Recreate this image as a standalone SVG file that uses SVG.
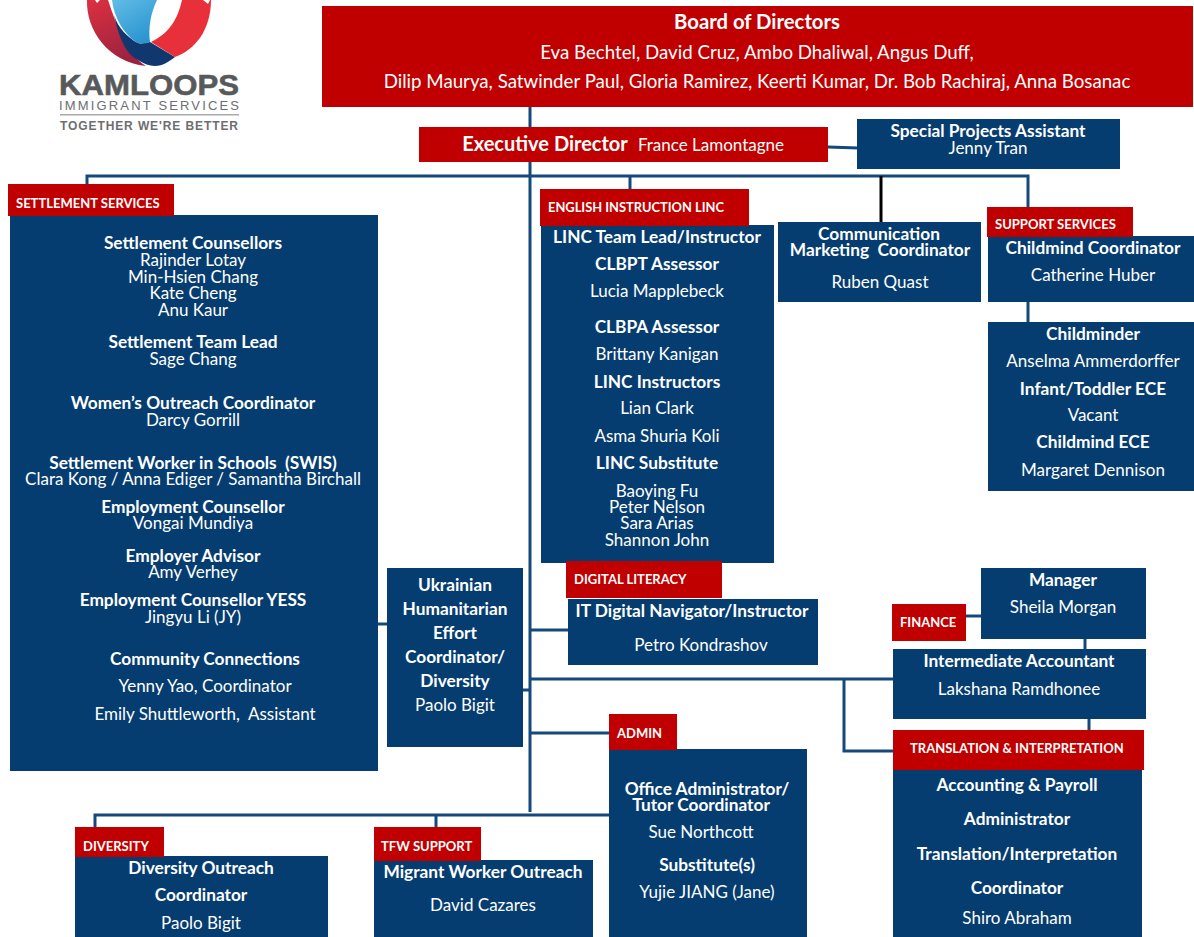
<svg xmlns="http://www.w3.org/2000/svg" width="1194" height="937" viewBox="0 0 1194 937">
<style>
text{font-family:Lato,"Liberation Sans",sans-serif;fill:#fff;text-anchor:middle;font-size:17px}
.b{font-weight:700;font-size:17.3px}
.t{font-weight:700;font-size:13px;text-anchor:start}
.red{fill:#c00000}
.blue{fill:#063d70}
.c{fill:none;stroke:#14497c;stroke-width:3}
.logo{font-family:"Liberation Sans",sans-serif}
</style>
<defs>
<linearGradient id="lr" x1="0" y1="0" x2="0.4" y2="1"><stop offset="0" stop-color="#dc3040"/><stop offset="1" stop-color="#9e2240"/></linearGradient>
<linearGradient id="lb" x1="0" y1="0" x2="0.6" y2="1"><stop offset="0" stop-color="#62bce6"/><stop offset="1" stop-color="#2a95d0"/></linearGradient>
</defs>
<rect width="1194" height="937" fill="#fff"/>
<g id="connectors">
<path class="c" d="M530 106V812"/>
<path class="c" d="M87 184V176H1028V208"/>
<path class="c" d="M630 176V190"/>
<path d="M881 176V222" fill="none" stroke="#000" stroke-width="3"/>
<path class="c" d="M828 147L858 148"/>
<path class="c" d="M378 624H388"/>
<path class="c" d="M523 690H530"/>
<path class="c" d="M530 630H568"/>
<path class="c" d="M530 679H893"/>
<path class="c" d="M844 679V751H893"/>
<path class="c" d="M530 733H609"/>
<path class="c" d="M95 828V815H609"/>
<path class="c" d="M436 815V828"/>
<path class="c" d="M965 616H981"/>
<path class="c" d="M1085 638V650"/>
<path class="c" d="M1089 718V730"/>
<path class="c" d="M1028 302V323"/>
</g>
<g id="logo">
<path d="M87 0C86 30 108 62 146 66C128 55 118 30 108 0Z" fill="url(#lr)"/>
<path d="M114 15C118 35 125 50 132 56C140 62 148 66 155 66C163 66 170 61 175 57L150 42C145 43 140 44 138 43C128 38 118 28 114 15Z" fill="#10386f"/>
<path d="M112 0H157C151 12 148 28 150 42C145 44 140 44 136 42C124 34 114 18 112 0Z" fill="url(#lb)"/>
<path d="M182 0H211C211 30 195 50 175 57L151 42C170 33 178 18 182 0Z" fill="#e8303a"/>
<path d="M95 0H100L97 3ZM203 0H210L208 4Z" fill="#fff"/>
<text class="logo" x="149" y="95" style="font-size:30px;fill:#58595b;font-weight:700;stroke:#58595b;stroke-width:.6" textLength="180" lengthAdjust="spacingAndGlyphs">KAMLOOPS</text>
<text class="logo" x="149" y="109.5" style="font-size:13px;fill:#6d6e71" textLength="180">IMMIGRANT SERVICES</text>
<rect x="60" y="114" width="179" height="1.5" fill="#aaa"/>
<text class="logo" x="149" y="130" style="font-size:12px;fill:#6d6e71;font-weight:700" textLength="178">TOGETHER WE'RE BETTER</text>
</g>
<g id="board">
<rect class="red" x="322" y="6" width="871" height="101"/>
<text class="b" x="757" y="29" style="font-size:20.3px">Board of Directors</text>
<text x="757" y="59" style="font-size:18.7px">Eva Bechtel, David Cruz, Ambo Dhaliwal, Angus Duff,</text>
<text x="757" y="88" style="font-size:18.7px">Dilip Maurya, Satwinder Paul, Gloria Ramirez, Keerti Kumar, Dr. Bob Rachiraj, Anna Bosanac</text>
</g>
<g id="executive-director">
<rect class="red" x="419" y="127" width="409" height="35"/>
<text class="b" x="545" y="151" style="font-size:20px">Executive Director</text>
<text x="711" y="151">France Lamontagne</text>
</g>
<g id="special-projects">
<rect class="blue" x="857" y="119" width="263" height="50"/>
<text class="b" x="988" y="137">Special Projects Assistant</text>
<text x="988" y="154">Jenny Tran</text>
</g>
<g id="settlement">
<rect class="blue" x="10" y="215" width="368" height="556"/>
<rect class="red" x="8" y="184" width="166" height="32"/>
<text class="t" x="16" y="208">SETTLEMENT SERVICES</text>
<text class="b" x="193" y="249">Settlement Counsellors</text>
<text x="193" y="266">Rajinder Lotay</text>
<text x="193" y="283">Min-Hsien Chang</text>
<text x="193" y="299">Kate Cheng</text>
<text x="193" y="316">Anu Kaur</text>
<text class="b" x="193" y="348">Settlement Team Lead</text>
<text x="193" y="365">Sage Chang</text>
<text class="b" x="193" y="409">Women’s Outreach Coordinator</text>
<text x="193" y="426">Darcy Gorrill</text>
<text class="b" x="193" y="469">Settlement Worker in Schools &#160;(SWIS)</text>
<text x="193" y="485">Clara Kong / Anna Ediger / Samantha Birchall</text>
<text class="b" x="193" y="513">Employment Counsellor</text>
<text x="193" y="529">Vongai Mundiya</text>
<text class="b" x="193" y="562">Employer Advisor</text>
<text x="193" y="578">Amy Verhey</text>
<text class="b" x="193" y="606">Employment Counsellor YESS</text>
<text x="193" y="623">Jingyu Li (JY)</text>
<text class="b" x="205" y="665">Community Connections</text>
<text x="205" y="692">Yenny Yao, Coordinator</text>
<text x="205" y="720">Emily Shuttleworth, &#160;Assistant</text>
</g>
<g id="english">
<rect class="blue" x="541" y="225" width="233" height="338"/>
<rect class="red" x="540" y="189" width="209" height="37"/>
<text class="t" x="548" y="212" textLength="176" lengthAdjust="spacingAndGlyphs">ENGLISH INSTRUCTION LINC</text>
<text class="b" x="657" y="243">LINC Team Lead/Instructor</text>
<text class="b" x="657" y="270">CLBPT Assessor</text>
<text x="657" y="297">Lucia Mapplebeck</text>
<text class="b" x="657" y="333">CLBPA Assessor</text>
<text x="657" y="360">Brittany Kanigan</text>
<text class="b" x="657" y="388">LINC Instructors</text>
<text x="657" y="414">Lian Clark</text>
<text x="657" y="442">Asma Shuria Koli</text>
<text class="b" x="657" y="469">LINC Substitute</text>
<text x="657" y="497">Baoying Fu</text>
<text x="657" y="513">Peter Nelson</text>
<text x="657" y="529">Sara Arias</text>
<text x="657" y="546">Shannon John</text>
</g>
<g id="communication">
<rect class="blue" x="778" y="222" width="203" height="80"/>
<text class="b" x="879" y="240">Communication</text>
<text class="b" x="880" y="256">Marketing &#160;Coordinator</text>
<text x="880" y="288">Ruben Quast</text>
</g>
<g id="support">
<rect class="blue" x="988" y="236" width="206" height="66"/>
<rect class="red" x="987" y="207" width="146" height="30"/>
<text class="t" x="995" y="229">SUPPORT SERVICES</text>
<text class="b" x="1093" y="254">Childmind Coordinator</text>
<text x="1093" y="281">Catherine Huber</text>
</g>
<g id="childminder">
<rect class="blue" x="988" y="322" width="206" height="169"/>
<text class="b" x="1093" y="340">Childminder</text>
<text x="1093" y="367">Anselma Ammerdorffer</text>
<text class="b" x="1093" y="395">Infant/Toddler ECE</text>
<text x="1093" y="421">Vacant</text>
<text class="b" x="1093" y="448">Childmind ECE</text>
<text x="1093" y="476">Margaret Dennison</text>
</g>
<g id="ukrainian">
<rect class="blue" x="387" y="568" width="136" height="179"/>
<text class="b" x="455" y="591">Ukrainian</text>
<text class="b" x="455" y="615">Humanitarian</text>
<text class="b" x="455" y="639">Effort</text>
<text class="b" x="455" y="663">Coordinator/</text>
<text class="b" x="455" y="687">Diversity</text>
<text x="455" y="711">Paolo Bigit</text>
</g>
<g id="digital">
<rect class="blue" x="568" y="599" width="250" height="66"/>
<rect class="red" x="566" y="561" width="156" height="37"/>
<text class="t" x="574" y="584">DIGITAL LITERACY</text>
<text class="b" x="692" y="617">IT Digital Navigator/Instructor</text>
<text x="701" y="651">Petro Kondrashov</text>
</g>
<g id="finance-label">
<rect class="red" x="892" y="604" width="74" height="37"/>
<text class="t" x="900" y="627">FINANCE</text>
</g>
<g id="manager">
<rect class="blue" x="981" y="568" width="165" height="71"/>
<text class="b" x="1063" y="586">Manager</text>
<text x="1063" y="613">Sheila Morgan</text>
</g>
<g id="accountant">
<rect class="blue" x="893" y="649" width="253" height="70"/>
<text class="b" x="1019" y="667">Intermediate Accountant</text>
<text x="1019" y="695">Lakshana Ramdhonee</text>
</g>
<g id="admin">
<rect class="blue" x="609" y="749" width="198" height="188"/>
<rect class="red" x="609" y="714" width="68" height="36"/>
<text class="t" x="617" y="738">ADMIN</text>
<text class="b" x="707" y="795">Office Administrator/</text>
<text class="b" x="701" y="811">Tutor Coordinator</text>
<text x="701" y="838">Sue Northcott</text>
<text class="b" x="707" y="871">Substitute(s)</text>
<text x="707" y="898">Yujie JIANG (Jane)</text>
</g>
<g id="translation">
<rect class="blue" x="893" y="769" width="249" height="168"/>
<rect class="red" x="893" y="730" width="251" height="40"/>
<text class="t" x="910" y="753">TRANSLATION &amp; INTERPRETATION</text>
<text class="b" x="1017" y="791">Accounting &amp; Payroll</text>
<text class="b" x="1017" y="825">Administrator</text>
<text class="b" x="1017" y="860">Translation/Interpretation</text>
<text class="b" x="1017" y="894">Coordinator</text>
<text x="1017" y="924">Shiro Abraham</text>
</g>
<g id="diversity">
<rect class="blue" x="75" y="856" width="253" height="81"/>
<rect class="red" x="75" y="827" width="89" height="30"/>
<text class="t" x="83" y="851">DIVERSITY</text>
<text class="b" x="201" y="874">Diversity Outreach</text>
<text class="b" x="201" y="901">Coordinator</text>
<text x="201" y="929">Paolo Bigit</text>
</g>
<g id="tfw">
<rect class="blue" x="374" y="860" width="219" height="77"/>
<rect class="red" x="374" y="827" width="107" height="34"/>
<text class="t" x="381" y="851">TFW SUPPORT</text>
<text class="b" x="483" y="878">Migrant Worker Outreach</text>
<text x="483" y="911">David Cazares</text>
</g>
</svg>
